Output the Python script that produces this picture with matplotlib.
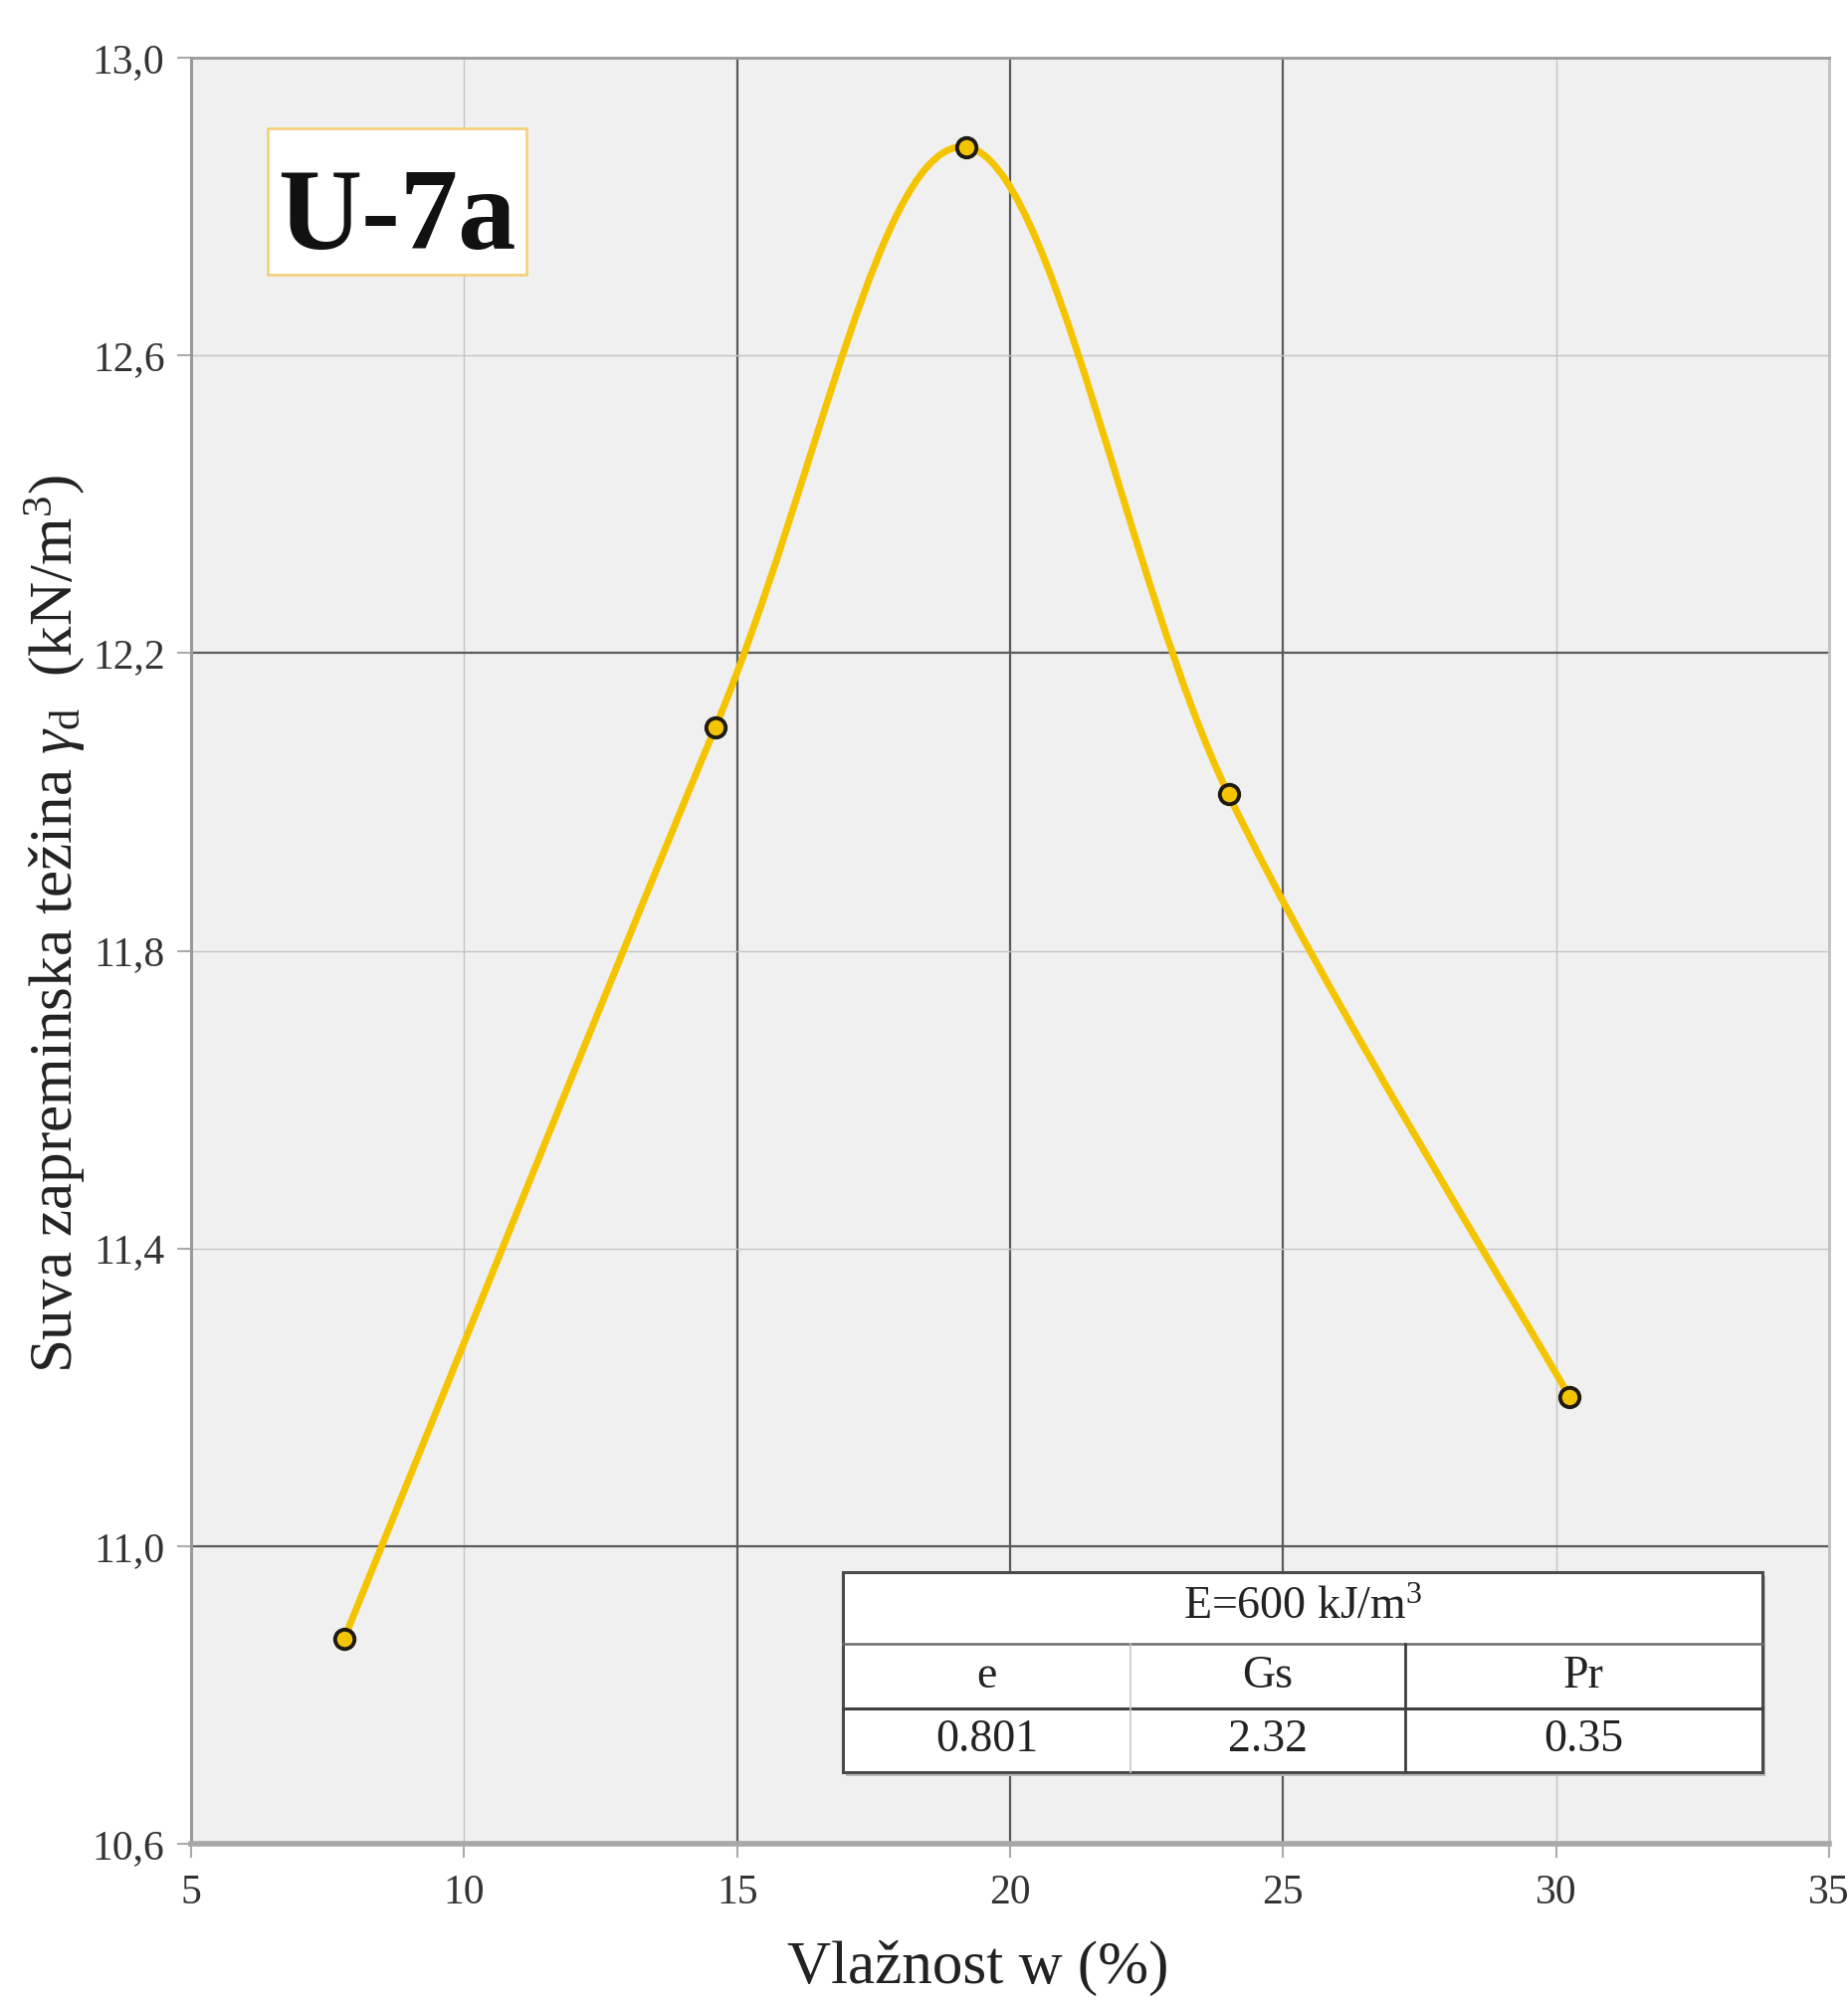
import numpy as np
import matplotlib
matplotlib.use('Agg')
import matplotlib.pyplot as plt
from matplotlib.path import Path
from matplotlib.patches import PathPatch, Rectangle
from matplotlib.ticker import FuncFormatter

plt.rcParams['font.family'] = ['Liberation Serif', 'DejaVu Serif']
plt.rcParams['mathtext.fontset'] = 'custom'
plt.rcParams['mathtext.rm'] = 'Liberation Serif'
plt.rcParams['mathtext.it'] = 'Liberation Serif:italic'
plt.rcParams['mathtext.bf'] = 'Liberation Serif:bold'

# ---- data ----
moisture = [7.8, 14.6, 19.2, 24.0, 30.25]          # w (%)
dry_weight = [10.875, 12.10, 12.88, 12.01, 11.20]   # gamma_d (kN/m3)

x_ticks = [5, 10, 15, 20, 25, 30, 35]
y_ticks = [10.6, 11.0, 11.4, 11.8, 12.2, 12.6, 13.0]
x_dark = [15, 20, 25]
y_dark = [11.0, 12.2]

sample = 'U-7a'
tbl_header = 'E=600 kJ/m$^3$'
tbl_cols = ['e', 'Gs', 'Pr']
tbl_vals = ['0.801', '2.32', '0.35']

LINE = '#f5c400'
TXT = '#222222'


def smooth_path(xs, ys):
    """Excel-like smoothed line: Catmull-Rom segments as cubic beziers."""
    p = np.column_stack([xs, ys]).astype(float)
    ext = np.vstack([p[0], p, p[-1]])
    verts, codes = [p[0]], [Path.MOVETO]
    for i in range(len(p) - 1):
        c1 = p[i] + (ext[i + 2] - ext[i]) / 6
        c2 = p[i + 1] - (ext[i + 3] - ext[i + 1]) / 6
        verts += [c1, c2, p[i + 1]]
        codes += [Path.CURVE4] * 3
    return Path(verts, codes)


fig = plt.figure(figsize=(18.57, 20.10), dpi=100)
ax = fig.add_axes([0.1034, 0.0781, 0.8864, 0.8930])
ax.set_facecolor('#f0f0f0')
ax.set_xlim(x_ticks[0], x_ticks[-1])
ax.set_ylim(y_ticks[0], y_ticks[-1])
ax.set_xticks(x_ticks)
ax.set_yticks(y_ticks)
ax.yaxis.set_major_formatter(FuncFormatter(lambda v, _: f'{v:.1f}'.replace('.', ',')))
ax.tick_params(direction='out', length=10, width=1.5, color='#aaaaaa',
               labelsize=30, labelcolor='#333333')
ax.tick_params(axis='x', pad=12)
ax.tick_params(axis='y', pad=9)

ax.set_axisbelow(True)
ax.grid(True)
for v, gl in zip(x_ticks, ax.get_xgridlines()):
    dark = any(np.isclose(v, d) for d in x_dark)
    gl.set_color('#5a5a5a' if dark else '#c4c4c4')
    gl.set_linewidth(1.6 if dark else 1.0)
for v, gl in zip(y_ticks, ax.get_ygridlines()):
    dark = any(np.isclose(v, d) for d in y_dark)
    gl.set_color('#5a5a5a' if dark else '#c4c4c4')
    gl.set_linewidth(1.6 if dark else 1.0)

ax.spines['left'].set_color('#9a9a9a')
ax.spines['left'].set_linewidth(2.2)
ax.spines['top'].set_color('#9a9a9a')
ax.spines['top'].set_linewidth(2.0)
ax.spines['right'].set_color('#c0c0c0')
ax.spines['right'].set_linewidth(2.0)
ax.spines['bottom'].set_color('#a8a8a8')
ax.spines['bottom'].set_linewidth(4.0)

# smoothed curve + measured points
ax.add_patch(PathPatch(smooth_path(moisture, dry_weight), fill=False,
                       edgecolor=LINE, lw=5, capstyle='round', zorder=3))
ax.plot(moisture, dry_weight, ls='none', marker='o', ms=14, mfc=LINE,
        mec='#1e1a10', mew=2.8, zorder=4)

# sample label box
ax.add_patch(Rectangle((0.0468, 0.8786), 0.1579, 0.0818, transform=ax.transAxes,
                       fc='white', ec='#f3d27a', lw=2, zorder=5))
ax.text(0.1258, 0.893, sample, transform=ax.transAxes, ha='center', va='baseline',
        fontsize=84, fontweight='bold', color='#111111', zorder=6)

# parameter table
tx0, tx1 = 0.398, 0.9593
cx = [tx0, 0.5732, 0.7412, tx1]
ry = [0.1521, 0.112, 0.0758, 0.0401]
ax.add_patch(Rectangle((tx0 + 0.002, ry[3] - 0.002), tx1 - tx0, ry[0] - ry[3],
                       transform=ax.transAxes, fc='#b8b8b8', ec='none', zorder=5))
ax.add_patch(Rectangle((tx0, ry[3]), tx1 - tx0, ry[0] - ry[3], transform=ax.transAxes,
                       fc='white', ec='#4a4a4a', lw=2.2, zorder=6))
ax.plot([tx0, tx1], [ry[1], ry[1]], color='#6a6a6a', lw=1.8,
        transform=ax.transAxes, zorder=7)
ax.plot([tx0, tx1], [ry[2], ry[2]], color='#404040', lw=2.2,
        transform=ax.transAxes, zorder=7)
ax.plot([cx[1], cx[1]], [ry[3], ry[1]], color='#c8c8c8', lw=1.2,
        transform=ax.transAxes, zorder=7)
ax.plot([cx[2], cx[2]], [ry[3], ry[1]], color='#404040', lw=2.0,
        transform=ax.transAxes, zorder=7)

ax.text((tx0 + tx1) / 2, (ry[0] + ry[1]) / 2, tbl_header, transform=ax.transAxes,
        ha='center', va='center', fontsize=33, color=TXT, zorder=8)
for i in range(3):
    xc = (cx[i] + cx[i + 1]) / 2
    ax.text(xc, (ry[1] + ry[2]) / 2, tbl_cols[i], transform=ax.transAxes,
            ha='center', va='center', fontsize=33, color=TXT, zorder=8)
    ax.text(xc, (ry[2] + ry[3]) / 2, tbl_vals[i], transform=ax.transAxes,
            ha='center', va='center', fontsize=33, color=TXT, zorder=8)

ax.set_xlabel('Vlažnost w (%)', fontsize=44, color=TXT)
ax.xaxis.set_label_coords(0.4806, -0.054)
ax.set_ylabel('Suva zapreminska težina $\\gamma_{\\mathrm{d}}$  (kN/m$^3$)',
              fontsize=44, color=TXT)
ax.yaxis.set_label_coords(-0.0638, 0.5148)

fig.savefig('out.png', dpi=100)
